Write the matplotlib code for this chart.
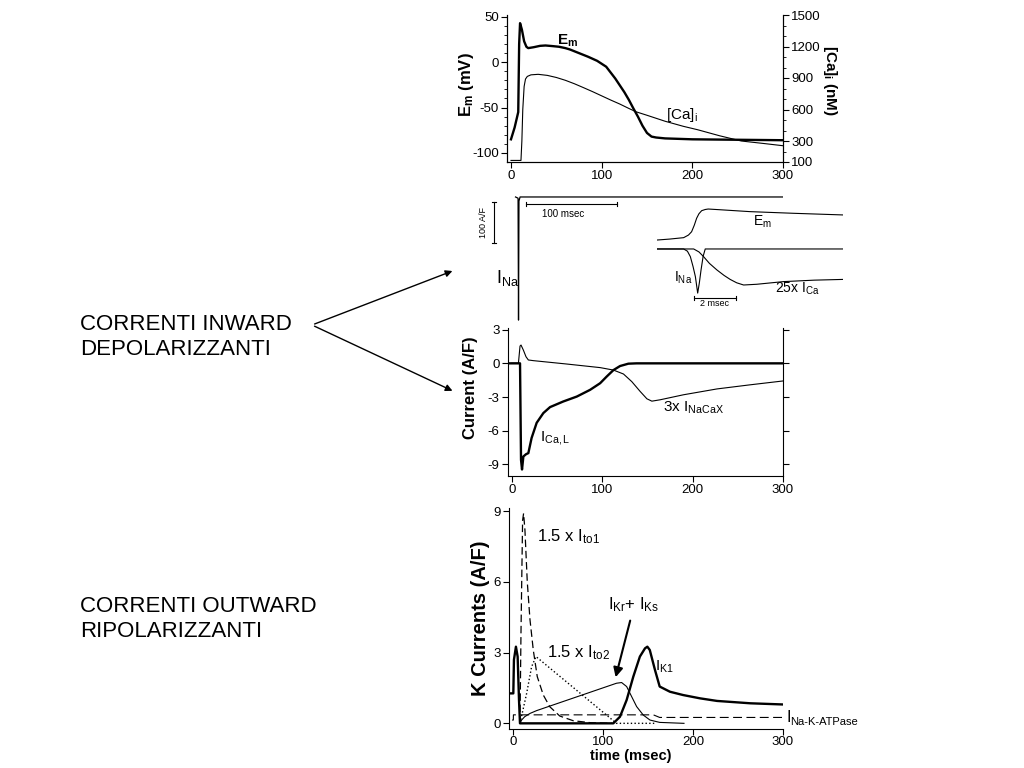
import numpy as np
import matplotlib
matplotlib.use("Agg")
import matplotlib.pyplot as plt

plt.rcParams['font.family'] = ['Liberation Sans', 'DejaVu Sans']
plt.rcParams['mathtext.fontset'] = 'custom'
plt.rcParams['mathtext.rm'] = 'Liberation Sans'
plt.rcParams['mathtext.it'] = 'Liberation Sans:italic'
plt.rcParams['mathtext.bf'] = 'Liberation Sans:bold'
plt.rcParams['axes.unicode_minus'] = False

# --- Pannello 1: potenziale di membrana e [Ca]i ---
EM_T = [0, 4, 8, 9, 10, 12, 14.5, 17, 19, 25, 32, 38, 45, 53, 60, 65, 75, 85, 95, 105, 115,
        125, 130, 135, 140, 145, 150, 155, 160, 170, 200, 250, 300]
EM_V = [-85, -72, -55, 20, 43, 36, 23, 17, 15.5, 16.5, 18, 18.4, 17.8, 17, 15.5, 14, 10, 6, 1.5,
        -5, -18, -33, -41.5, -51, -60, -70, -78, -82, -83, -84, -85, -85.5, -86]
CA_T = [0, 11, 12, 13, 14.5, 16, 18, 22, 30, 40, 50, 60, 70, 80, 90, 100, 110, 120, 130, 138,
        150, 170, 190, 206, 230, 254, 280, 300]
CA_V = [115, 115, 300, 600, 820, 890, 915, 930, 935, 925, 905, 878, 845, 808, 770, 730, 690,
        652, 610, 578, 545, 488, 440, 407, 350, 300, 275, 255]

# --- Pannello 2: I_Na ---
INA_T = [5, 7.8, 8.3, 8.8, 10, 300]
INA_V = [0, -3, -300, -10, 0, 0]
INSET_T_EM = [0, 0.6, 1.27, 1.5, 1.65, 1.78, 1.89, 2.0, 2.13, 2.3, 2.44, 3.0, 4.43, 6.5, 8.87]
INSET_EM = [-85, -81, -75, -64, -50, -22, 7, 26, 39, 44, 46, 43, 35, 28, 21]
INSET_T_NA = [0, 1.27, 1.45, 1.59, 1.72, 1.83, 1.94, 2.02, 2.10, 2.2, 2.3, 8.87]
INSET_NA = [0, 0, -15, -52, -120, -188, -300, -230, -143, -50, 0, 0]
INSET_T_CA = [0, 1.75, 2.0, 2.22, 2.5, 2.86, 3.2, 3.49, 3.8, 4.13, 4.76, 6.03, 7.5, 8.87]
INSET_CA = [0, 0, -20, -52, -98, -143, -180, -207, -230, -245, -240, -222, -212, -207]

# --- Pannello 3: I_Ca,L e 3x I_NaCaX ---
ICAL_T = [-4, 9.2, 10.3, 11.4, 12.9, 15.8, 18.4, 22, 27.6, 35, 42.4, 57, 72, 86.7, 97.8,
          105, 112.5, 119.8, 129, 138, 300]
ICAL_V = [0, 0, -8.6, -9.46, -8.3, -8.1, -8.0, -6.65, -5.3, -4.43, -3.9, -3.4, -2.96, -2.36,
          -1.77, -1.18, -0.6, -0.24, -0.03, 0, 0]
NCX_T = [0, 7.4, 9.2, 10.3, 12.9, 15.8, 18.4, 24, 60.8, 97.8, 112.5, 123.6, 132.8, 142,
         149.5, 155, 164, 190, 227, 263, 300]
NCX_V = [0, 0, 1.54, 1.63, 1.18, 0.59, 0.3, 0.24, -0.06, -0.38, -0.6, -0.95, -1.63, -2.5,
         -3.16, -3.37, -3.25, -2.8, -2.28, -1.92, -1.57]

# --- Pannello 4: correnti K ---
IK1_T = [-4.4, 0.4, 1.1, 3.3, 5.2, 6.7, 7.8, 111.5, 118.9, 126.3, 133.7, 141, 146.7, 149.3,
         152, 157.8, 163, 174.4, 189, 207.8, 226.7, 263.7, 300]
IK1_V = [1.27, 1.27, 2.7, 3.25, 2.83, 1.0, 0.0, 0.0, 0.28, 0.99, 1.98, 2.83, 3.18, 3.25,
         3.11, 2.26, 1.56, 1.34, 1.2, 1.06, 0.95, 0.85, 0.8]
ITO1_T = [7.8, 8.9, 10.7, 11.8, 13.3, 15.9, 18.9, 22.6, 27, 33.7, 41, 52, 67, 85.5, 110]
ITO1_V = [0, 3.8, 8.6, 8.9, 8.2, 6.0, 4.4, 3.1, 1.98, 1.2, 0.7, 0.31, 0.11, 0.03, 0]
ITO2_T = [7.8, 15.2, 20.7, 25.6, 115, 159]
ITO2_V = [0, 1.27, 2.4, 2.83, 0, 0]
IKRS_T = [7.8, 9.6, 13, 18.9, 26.3, 115, 120.7, 126.3, 131.9, 137.4, 144.8, 152.2, 163, 190]
IKRS_V = [0, 0.14, 0.28, 0.42, 0.54, 1.70, 1.73, 1.56, 1.13, 0.71, 0.35, 0.14, 0.04, 0]
INAK_T = [-1, 0.4, 0.5, 156, 163, 300]
INAK_V = [0.14, 0.14, 0.36, 0.36, 0.25, 0.25]

W, H = 1024, 768


def box(x0, y0, x1, y1):
    # rettangolo in pixel (origine in alto a sinistra) -> coordinate figura
    return [x0 / W, 1 - y1 / H, (x1 - x0) / W, (y1 - y0) / H]


def fp(x, y):
    return (x / W, 1 - y / H)


fig = plt.figure(figsize=(10.24, 7.68), dpi=100)
TICK_KW = dict(direction="out", length=4, width=0.8, labelsize=9.5, pad=2)

# Pannello 1
ax1 = fig.add_axes(box(507, 15, 783, 162))
ax1.plot(EM_T, EM_V, color="black", lw=1.7)
ax1.set_xlim(-4.4, 300)
ax1.set_ylim(-110, 52)
ax1.set_yticks([50, 0, -50, -100])
ax1.set_yticks(np.arange(-100, 51, 10), minor=True)
ax1.set_xticks([0, 100, 200, 300])
ax1.tick_params(**TICK_KW)
ax1.tick_params(which="minor", direction="out", length=2, width=0.6)
ax1r = ax1.twinx()
ax1r.plot(CA_T, CA_V, color="black", lw=0.8)
ax1r.set_ylim(100, 1500)
ax1r.set_yticks([100, 300, 600, 900, 1200, 1500])
ax1r.set_yticks(np.arange(100, 1501, 100), minor=True)
ax1r.tick_params(**TICK_KW)
ax1r.tick_params(which="minor", direction="out", length=2, width=0.6)
for a in (ax1, ax1r):
    a.spines["top"].set_visible(False)
    for s in ("left", "right", "bottom"):
        a.spines[s].set_linewidth(0.8)
fig.text(*fp(466, 85), r"E$_{\mathbf{m}}$ (mV)", rotation=90, ha="center", va="center",
         fontsize=12, fontweight="bold")
fig.text(*fp(830, 80), r"[Ca]$_{\mathbf{i}}$ (nM)", rotation=-90, ha="center", va="center",
         fontsize=11, fontweight="bold")
fig.text(*fp(568, 41), r"E$_{\mathbf{m}}$", ha="center", va="center", fontsize=11,
         fontweight="bold")
fig.text(*fp(682, 115), r"[Ca]$_{\rm i}$", ha="center", va="center", fontsize=11)

# Pannello 2
ax2 = fig.add_axes(box(507, 190, 783, 325))
ax2.plot(INA_T, INA_V, color="black", lw=0.9)
ax2.set_xlim(-4.4, 300)
ax2.set_ylim(-312, 17)
ax2.axis("off")
SCALE_AF = 100
SCALE_MS = 100
ax2.plot([-18.7, -18.7], [-12, -12 - SCALE_AF], color="black", lw=0.8, clip_on=False)
ax2.plot([-21, -16.4], [-12, -12], color="black", lw=0.8, clip_on=False)
ax2.plot([-21, -16.4], [-12 - SCALE_AF, -12 - SCALE_AF], color="black", lw=0.8, clip_on=False)
ax2.plot([16.5, 16.5 + SCALE_MS], [-17, -17], color="black", lw=0.8)
ax2.plot([16.5, 16.5], [-12, -22], color="black", lw=0.8)
ax2.plot([16.5 + SCALE_MS, 16.5 + SCALE_MS], [-12, -22], color="black", lw=0.8)
fig.text(*fp(484, 222), "100 A/F", rotation=90, ha="center", va="center", fontsize=6.5)
fig.text(*fp(563, 214), "100 msec", ha="center", va="center", fontsize=7)
fig.text(*fp(496, 278), r"I$_{\rm Na}$", ha="left", va="center", fontsize=13)

ins1 = fig.add_axes(box(657, 205, 843, 245))
ins1.plot(INSET_T_EM, INSET_EM, color="black", lw=0.8)
ins1.set_xlim(0, 8.87)
ins1.set_ylim(-106, 63)
ins1.axis("off")
ins2 = fig.add_axes(box(657, 245, 843, 310))
ins2.plot(INSET_T_NA, INSET_NA, color="black", lw=0.8)
ins2.plot(INSET_T_CA, INSET_CA, color="black", lw=0.8)
ins2.set_xlim(0, 8.87)
ins2.set_ylim(-415, 27)
ins2.axis("off")
ins2.plot([1.76, 3.76], [-333, -333], color="black", lw=0.8)
ins2.plot([1.76, 1.76], [-318, -348], color="black", lw=0.8)
ins2.plot([3.76, 3.76], [-318, -348], color="black", lw=0.8)
fig.text(*fp(715, 304), "2 msec", ha="center", va="center", fontsize=6.5)
fig.text(*fp(762, 222), r"E$_{\rm m}$", ha="center", va="center", fontsize=10)
fig.text(*fp(674, 278), r"I$_{\rm Na}$", ha="left", va="center", fontsize=10)
fig.text(*fp(775, 289), r"25x I$_{\rm Ca}$", ha="left", va="center", fontsize=10)

# Pannello 3
ax3 = fig.add_axes(box(508, 328, 783, 476))
ax3.plot(ICAL_T, ICAL_V, color="black", lw=1.7)
ax3.plot(NCX_T, NCX_V, color="black", lw=0.8)
ax3.set_xlim(-4.1, 300)
ax3.set_ylim(-10.04, 3.15)
ax3.set_yticks([3, 0, -3, -6, -9])
ax3.set_xticks([0, 100, 200, 300])
ax3.tick_params(**TICK_KW)
ax3.tick_params(right=True, labelright=False)
ax3.spines["top"].set_visible(False)
for s in ("left", "right", "bottom"):
    ax3.spines[s].set_linewidth(0.8)
fig.text(*fp(470, 388), "Current (A/F)", rotation=90, ha="center", va="center",
         fontsize=12, fontweight="bold")
fig.text(*fp(540, 438), r"I$_{\rm Ca,L}$", ha="left", va="center", fontsize=11)
fig.text(*fp(663, 408), r"3x I$_{\rm NaCaX}$", ha="left", va="center", fontsize=11)

# Pannello 4
ax4 = fig.add_axes(box(509, 508, 783, 729))
ax4.plot(IK1_T, IK1_V, color="black", lw=1.7)
ax4.plot(ITO1_T, ITO1_V, color="black", lw=0.9, dashes=(6, 3))
ax4.plot(ITO2_T, ITO2_V, color="black", lw=1.0, linestyle=":")
ax4.plot(IKRS_T, IKRS_V, color="black", lw=0.8)
ax4.plot(INAK_T, INAK_V, color="black", lw=0.8, dashes=(8, 4))
ax4.set_xlim(-4.4, 300)
ax4.set_ylim(-0.24, 9.13)
ax4.set_yticks([0, 3, 6, 9])
ax4.set_xticks([0, 100, 200, 300])
ax4.tick_params(**TICK_KW)
ax4.tick_params(axis="x", pad=1)
ax4.spines["top"].set_visible(False)
ax4.spines["right"].set_visible(False)
for s in ("left", "bottom"):
    ax4.spines[s].set_linewidth(0.8)
fig.text(*fp(631, 756), "time (msec)", ha="center", va="center", fontsize=10.5,
         fontweight="bold")
fig.text(*fp(480, 618), "K Currents (A/F)", rotation=90, ha="center", va="center",
         fontsize=14.5, fontweight="bold")
fig.text(*fp(537, 537), r"1.5 x I$_{\rm to1}$", ha="left", va="center", fontsize=12)
fig.text(*fp(547, 653), r"1.5 x I$_{\rm to2}$", ha="left", va="center", fontsize=12)
fig.text(*fp(608, 605), r"I$_{\rm Kr}$+ I$_{\rm Ks}$", ha="left", va="center", fontsize=12)
fig.text(*fp(655, 667), r"I$_{\rm K1}$", ha="left", va="center", fontsize=11)
fig.text(*fp(786, 718), "I", ha="left", va="center", fontsize=11.5)
fig.text(*fp(790, 722), "Na-K-ATPase", ha="left", va="center", fontsize=8)
ax4.annotate("", xy=(113.3, 1.84), xytext=(131, 4.47),
             arrowprops=dict(arrowstyle="-|>", color="black", lw=1.5, mutation_scale=14))

# Testi a sinistra con frecce
fig.text(*fp(80, 337), "CORRENTI INWARD\nDEPOLARIZZANTI", ha="left", va="center",
         fontsize=16, linespacing=1.25)
fig.text(*fp(80, 619), "CORRENTI OUTWARD\nRIPOLARIZZANTI", ha="left", va="center",
         fontsize=16, linespacing=1.25)
for tip in ((455, 270), (455, 392)):
    ax4.annotate("", xy=fp(*tip), xycoords="figure fraction",
                 xytext=fp(312, 325), textcoords="figure fraction",
                 arrowprops=dict(arrowstyle="-|>", color="black", lw=1.0, mutation_scale=10),
                 annotation_clip=False)

fig.savefig("out.png", dpi=100)
